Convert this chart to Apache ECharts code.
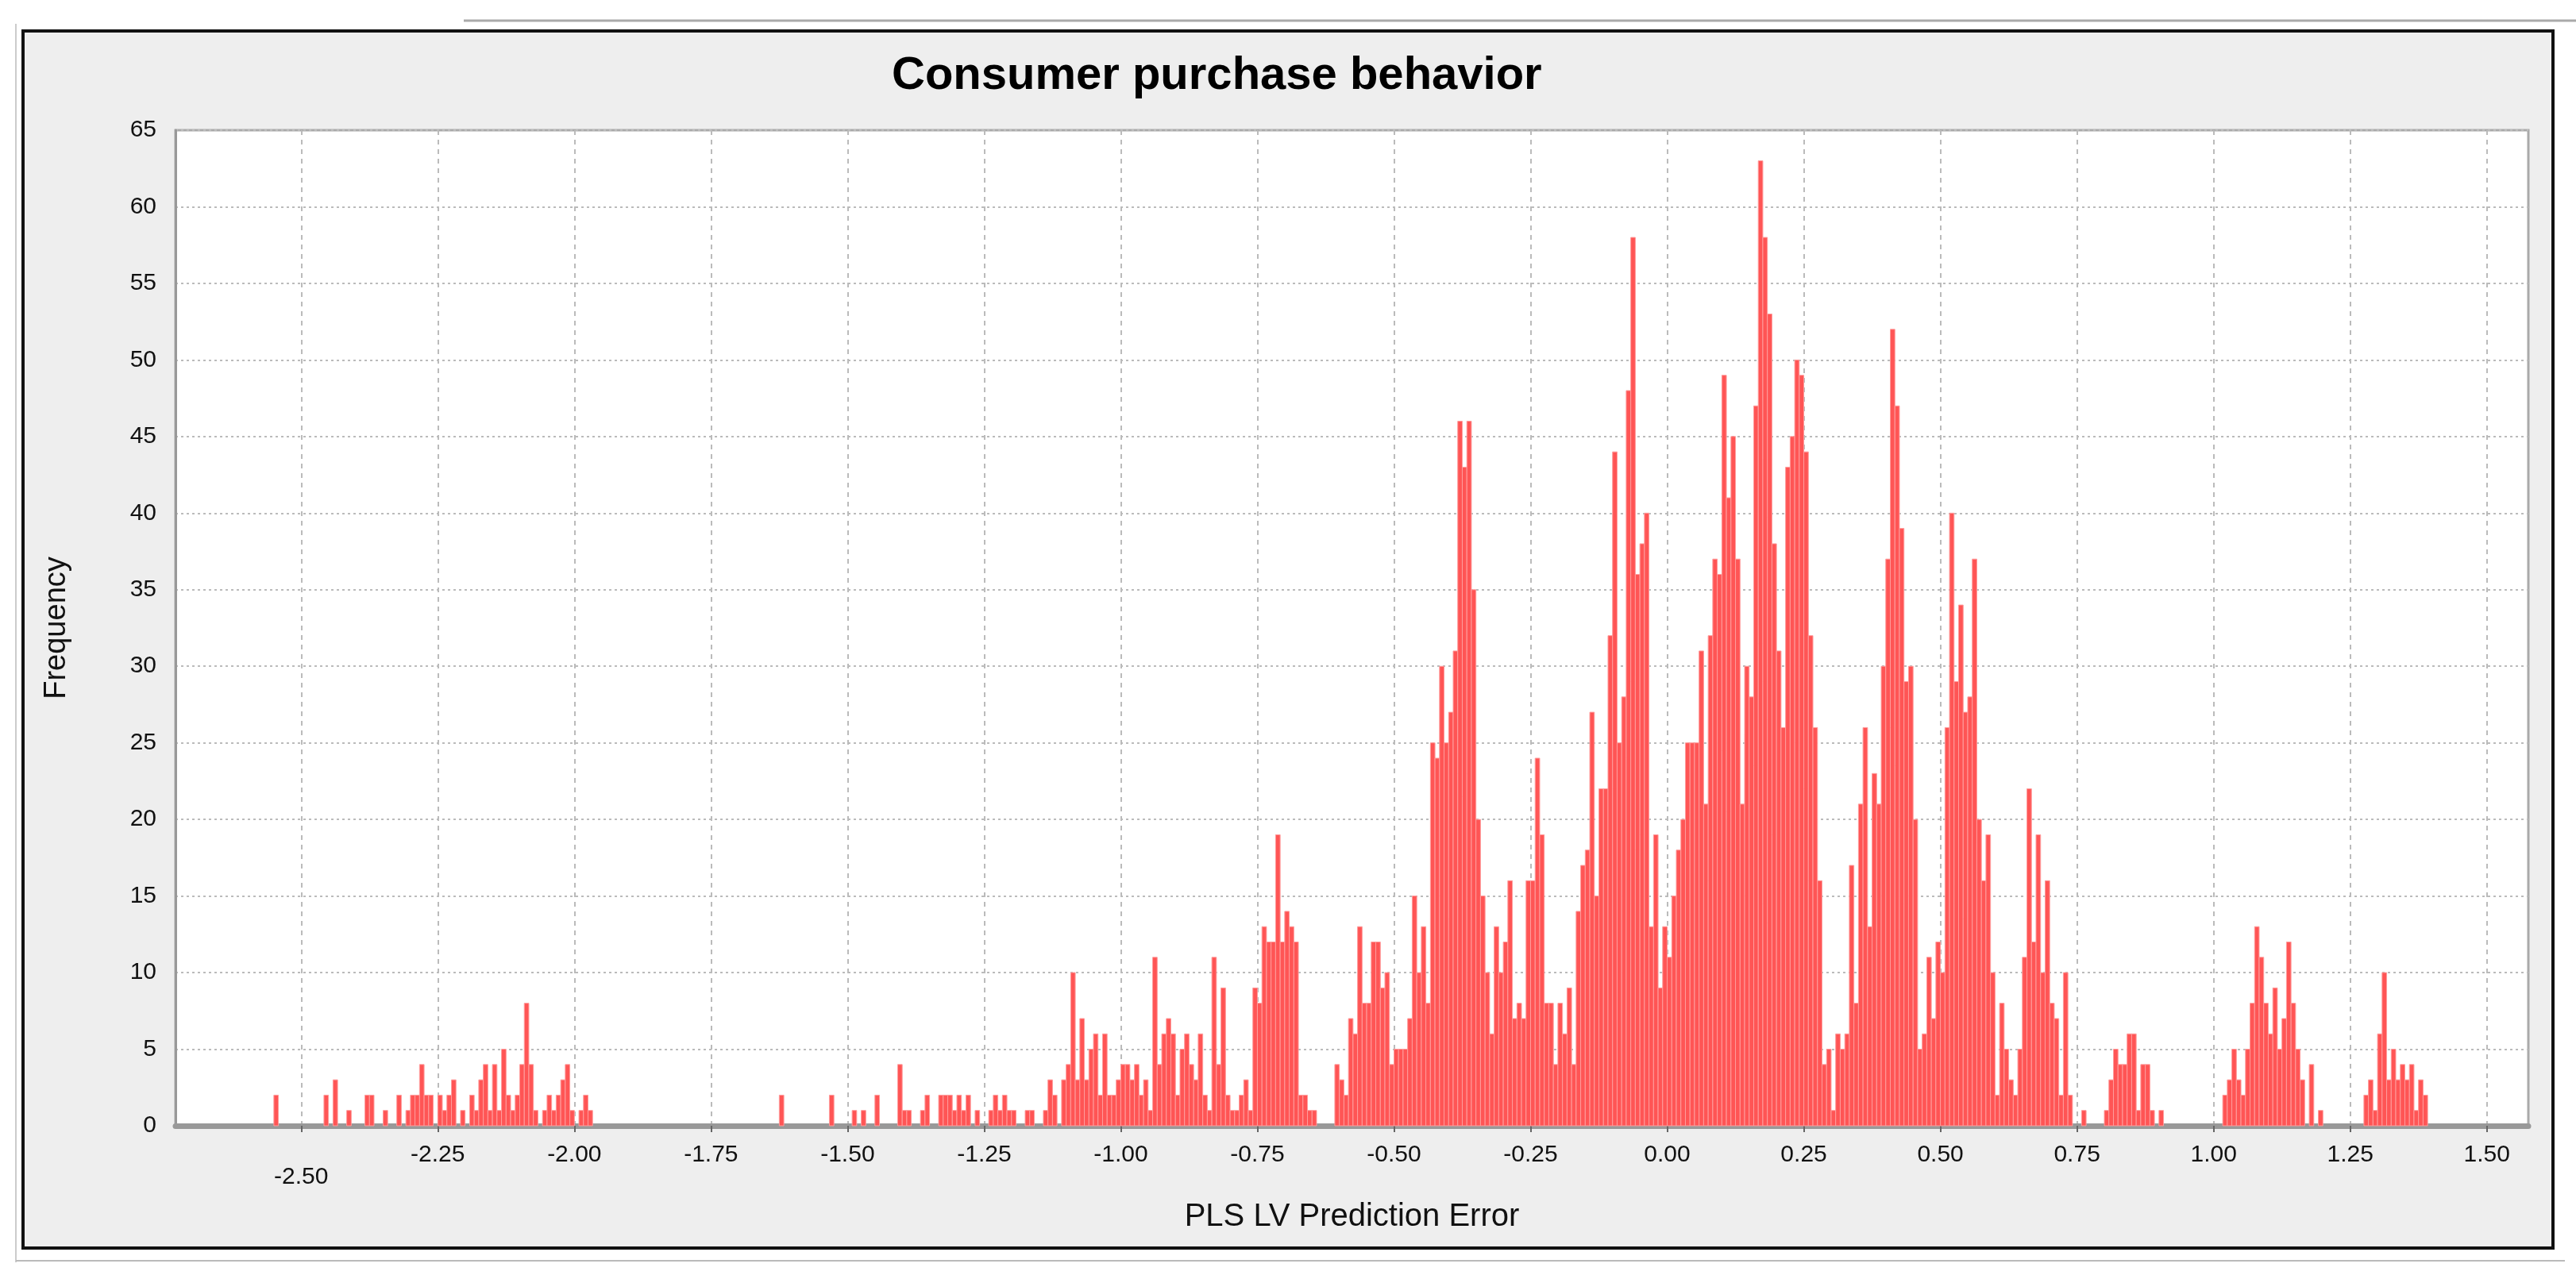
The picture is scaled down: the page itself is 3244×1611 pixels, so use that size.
<!DOCTYPE html>
<html>
<head>
<meta charset="utf-8">
<script src="https://cdn.jsdelivr.net/npm/echarts@6/dist/echarts.min.js"></script>
<style>
html,body{margin:0;padding:0;background:#fff;}
#main{width:3244px;height:1611px;}
</style>
</head>
<body>
<div id="main"></div>
<script>
// histogram bins: left edge of bin i = binStart + i * binWidth
const binStart = -2.55
const binWidth = 1 / 120

// counts, in runs of consecutive bins
const leftStart = 0
const leftCounts = [2,0,0,0,0,0,0,0,0,0,0,2,0,3,0,0,1,0,0,0,2,2,0,0,1,0,0,2,0,1,2,2,4,2,2,0,2,1,2,3,0,1,0,2,1,3,4,1,4,1,5,2,1,2,4,8,4,1,0,1,2,1,2,3,4,1,0,1,2,1]
const midStart = 111
const midCounts = [2,0,0,0,0,0,0,0,0,0,0,2,0,0,0,0,1,0,1,0,0,2,0,0,0,0,4,1,1,0,0,1,2,0,0,2,2,2,1,2,1,2,0,1,0,0,1,2,1,2,1,1,0,0,1,1,0,0,1]
const coreStart = 170
const coreCounts = [3,2,0,3,4,10,3,7,3,5,6,2,6,2,2,3,4,4,3,4,2,3,1,11,4,6,7,6,2,5,6,4,3,6,2,1,11,4,9,2,1,1,2,3,1,9,8,13,12,12,19,
  12,14,13,12,2,2,1,1,0,0,0,0,
  4,3,2,7,6,13,8,8,12,12,9,10,4,5,5,5,7,15,10,13,8,25,24,30,25,27,31,46,43,46,35,20,15,10,6,13,10,12,16,7,8,7,16,16,24,19,8,8,4,8,
  6,9,4,14,17,18,27,15,22,22,32,44,25,28,48,58,36,38,40,13,19,9,13,11,15,18,20,25,25,25,31,21,32,37,36,49,41,45,37,21,30,28,47,63,58,53,38,31,26,43,
  45,50,49,44,32,26,16,4,5,1,6,5,6,17,8,21,26,13,23,21,30,37,52,47,39,29,30,20,5,6,11,7,12,10,26,40,29,34,27,28,37,20,16,19,10,2,8,5,3,2,5,11,22,12,19,10,16,8,7,2,10,2,0,0,1,0,0,0,0,1,3,5,4,4,6,6,1,4,4,1,0,1]
const rightStart = 428
const rightCounts = [2,3,5,3,2,5,8,13,11,8,6,9,5,7,12,8,5,3,0,4,0,1,0,0,0,0,0,0,0,0,0,2,3,1,6,10,3,5,3,4,3,4,1,3,2]

const xTicks = [-2.5,-2.25,-2,-1.75,-1.5,-1.25,-1,-0.75,-0.5,-0.25,0,0.25,0.5,0.75,1,1.25,1.5]

function toBars(start, counts){
  const out = []
  counts.forEach((c, k) => {
    if (c > 0) {
      const x0 = binStart + (start + k) * binWidth
      out.push([x0, x0 + binWidth, c])
    }
  })
  return out
}
const bars = [].concat(
  toBars(leftStart, leftCounts),
  toBars(midStart, midCounts),
  toBars(coreStart, coreCounts),
  toBars(rightStart, rightCounts)
)

const chart = echarts.init(document.getElementById('main'))
const font = '"Liberation Sans", Arial, sans-serif'

chart.setOption({
  backgroundColor: '#fff',
  animation: false,
  graphic: [
    { type: 'line', shape: { x1: 584, y1: 26, x2: 3244, y2: 26 }, style: { stroke: '#aaa', lineWidth: 3 }, z: -20 },
    { type: 'line', shape: { x1: 20, y1: 30, x2: 20, y2: 1590 }, style: { stroke: '#ccc', lineWidth: 2 }, z: -20 },
    { type: 'line', shape: { x1: 20, y1: 1588, x2: 3230, y2: 1588 }, style: { stroke: '#bbb', lineWidth: 2 }, z: -20 },
    { type: 'rect', shape: { x: 29, y: 39, width: 3186, height: 1533 }, style: { fill: '#eeeeee', stroke: '#111', lineWidth: 4 }, z: -10 }
  ],
  title: {
    text: 'Consumer purchase behavior',
    left: 1118, top: 62,
    textStyle: { fontFamily: font, fontSize: 58, fontWeight: 'bold', color: '#000' }
  },
  grid: {
    left: 221, right: 60, top: 164, bottom: 193,
    show: true, backgroundColor: '#fff', borderColor: '#aaa', borderWidth: 3
  },
  xAxis: {
    type: 'value', min: -2.73, max: 1.576,
    name: 'PLS LV Prediction Error', nameLocation: 'middle', nameGap: 95,
    nameTextStyle: { fontFamily: font, fontSize: 40, color: '#111' },
    axisLine: { onZero: false, lineStyle: { color: '#999', width: 7 } },
    axisTick: { show: true, customValues: xTicks, length: 8, lineStyle: { color: '#666', width: 2 } },
    axisLabel: {
      customValues: xTicks, margin: 22, fontFamily: font, fontSize: 30, color: '#111',
      formatter: v => Math.abs(v + 2.5) < 1e-9 ? '{low|' + v.toFixed(2) + '}' : v.toFixed(2),
      rich: { low: { fontFamily: font, fontSize: 30, color: '#111', padding: [28, 0, 0, 0] } }
    },
    splitLine: { show: true, lineStyle: { color: '#bbb', type: [6, 6], width: 2 } }
  },
  yAxis: {
    type: 'value', min: 0, max: 65, interval: 5,
    name: 'Frequency', nameLocation: 'middle', nameGap: 130,
    nameTextStyle: { fontFamily: font, fontSize: 38, color: '#111' },
    axisLine: { show: true, onZero: false, lineStyle: { color: '#999', width: 3 } },
    axisTick: { show: false },
    axisLabel: { fontFamily: font, fontSize: 30, color: '#111', margin: 24 },
    splitLine: { show: true, lineStyle: { color: '#bbb', type: [3, 4], width: 2 } }
  },
  series: [{
    type: 'custom',
    data: bars,
    encode: { x: [0, 1], y: 2 },
    renderItem: (params, api) => {
      const p0 = api.coord([api.value(0), api.value(2)])
      const p1 = api.coord([api.value(1), 0])
      return {
        type: 'rect',
        shape: { x: p0[0], y: p0[1], width: p1[0] - p0[0], height: p1[1] - p0[1] },
        style: { fill: '#ff5555', stroke: '#ff9c9c', lineWidth: 1 }
      }
    }
  }]
})
</script>
</body>
</html>
